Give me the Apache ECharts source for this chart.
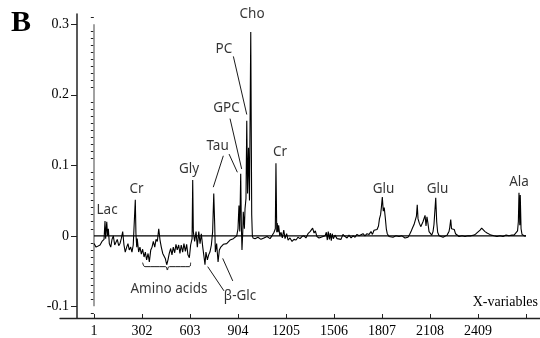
<!DOCTYPE html>
<html>
<head>
<meta charset="utf-8">
<script src="https://cdn.jsdelivr.net/npm/echarts@6/dist/echarts.min.js"></script>
<style>html,body{margin:0;padding:0;background:#fff}#c{width:540px;height:338px}</style>
</head>
<body>
<div id="c"></div>
<script>
// X-variable index of each sampled point of the loading spectrum
const variableIdx = [1,14,26,39,51,64,70,74,81,86,91,97,106,114,122,131,139,147,156,164,172,181,189,197,206,214,222,231,239,247,254,260,264,269,272,281,289,298,306,315,323,331,340,348,357,365,373,382,390,398,407,415,423,432,440,448,457,465,473,482,490,498,507,515,523,532,540,548,557,565,574,582,590,599,607,616,620,624,632,641,649,658,666,674,683,691,697,703,712,720,728,737,745,752,758,762,770,779,787,796,804,812,833,854,875,896,904,910,915,921,925,929,934,937,944,948,954,959,964,970,976,984,990,994,998,1011,1029,1048,1067,1086,1105,1117,1130,1138,1142,1147,1150,1155,1159,1166,1174,1182,1191,1199,1209,1218,1230,1243,1255,1268,1280,1293,1305,1318,1330,1343,1356,1366,1372,1381,1389,1399,1412,1425,1437,1450,1458,1464,1470,1477,1483,1489,1495,1502,1512,1525,1537,1550,1562,1575,1588,1600,1613,1625,1638,1650,1663,1675,1688,1700,1713,1726,1738,1747,1757,1766,1776,1785,1791,1798,1803,1809,1815,1821,1828,1834,1840,1851,1863,1876,1895,1914,1932,1951,1962,1970,1980,1989,1998,2008,2017,2023,2028,2033,2041,2050,2058,2064,2070,2077,2083,2089,2095,2102,2111,2119,2127,2133,2144,2150,2156,2165,2177,2190,2202,2215,2227,2232,2238,2243,2248,2254,2260,2268,2277,2290,2309,2328,2346,2365,2384,2397,2409,2422,2432,2440,2453,2466,2478,2491,2509,2528,2547,2566,2585,2603,2622,2635,2647,2657,2662,2666,2671,2674,2679,2685,2698,2710];
// loading value at each of those indices
const loadings = [-0.011,-0.016,-0.017,-0.013,-0.008,-0.005,0.021,-0.004,0.020,0.000,0.010,-0.011,-0.016,-0.005,0.000,-0.013,-0.014,-0.005,-0.014,-0.011,-0.004,0.006,-0.013,-0.023,-0.016,-0.011,-0.020,-0.016,-0.023,-0.013,-0.011,0.051,0.003,-0.016,-0.004,-0.023,-0.016,-0.026,-0.019,-0.030,-0.023,-0.034,-0.025,-0.037,-0.020,-0.016,-0.008,-0.016,-0.005,-0.008,0.010,-0.006,-0.016,-0.025,-0.023,-0.032,-0.041,-0.034,-0.025,-0.018,-0.027,-0.016,-0.024,-0.012,-0.020,-0.013,-0.025,-0.013,-0.023,-0.011,-0.022,-0.012,-0.027,-0.031,-0.013,-0.004,0.079,0.006,-0.008,0.006,-0.016,0.006,-0.011,0.003,-0.016,-0.030,-0.041,-0.023,-0.034,-0.027,-0.023,-0.013,0.006,0.060,0.015,-0.023,-0.011,-0.037,-0.020,-0.016,-0.018,-0.012,-0.011,-0.006,-0.004,0.000,0.010,0.043,0.006,0.088,0.015,-0.020,0.006,0.034,0.010,0.038,0.053,0.163,0.060,0.125,0.050,0.289,0.030,0.000,-0.003,-0.004,-0.002,-0.005,-0.003,-0.001,-0.004,0.000,0.005,0.010,0.103,0.005,0.018,0.005,0.015,0.000,0.005,-0.003,0.008,-0.004,0.003,-0.006,-0.003,-0.008,-0.005,-0.006,-0.002,-0.004,-0.001,0.000,-0.003,0.003,0.006,0.004,0.011,0.004,0.007,-0.001,-0.003,-0.002,-0.004,0.000,0.005,-0.006,0.006,-0.005,0.004,-0.007,0.003,-0.004,0.001,-0.004,-0.002,-0.005,0.002,-0.001,-0.003,0.001,-0.003,0.000,-0.002,0.002,0.000,-0.002,0.003,0.000,0.003,0.002,0.006,0.002,0.008,0.010,0.009,0.014,0.024,0.030,0.040,0.055,0.035,0.040,0.025,0.010,0.003,-0.001,0.001,-0.002,0.000,-0.001,0.000,-0.003,-0.005,-0.002,0.002,0.006,0.011,0.016,0.018,0.028,0.044,0.024,0.018,0.013,0.011,0.020,0.018,0.029,0.014,0.027,0.018,0.006,0.004,0.001,0.006,0.016,0.054,0.020,0.005,0.000,-0.002,-0.002,0.000,0.001,0.006,0.012,0.023,0.010,0.012,0.008,0.009,0.003,0.001,-0.001,0.000,-0.001,0.000,0.000,0.001,0.003,0.005,0.008,0.011,0.009,0.006,0.004,0.002,0.001,0.000,-0.001,0.000,-0.001,0.001,0.000,0.001,0.001,0.003,0.007,0.020,0.061,0.015,0.058,0.010,0.002,0.000,0.000];

const xTickValues = [1,302,603,904,1205,1506,1807,2108,2409,2710];
const xTickLabels = ['1','302','603','904','1205','1506','1807','2108','2409'];
const yTickValues = [-0.1,0,0.1,0.2,0.3];
const yTickLabels = ['-0.1','0','0.1','0.2','0.3'];
const yMinorTicks = [-0.11,-0.09,-0.08,-0.07,-0.06,-0.05,-0.04,-0.03,-0.02,-0.01,0.01,0.02,0.03,0.04,0.05,0.06,0.07,0.08,0.09,0.11,0.12,0.13,0.14,0.15,0.16,0.17,0.18,0.19,0.21,0.22,0.23,0.24,0.25,0.26,0.27,0.28,0.29,0.31];

// metabolite annotations: [name, x-variable, value]
const annotNames = ['Lac','Cr','Gly','Tau','GPC','PC','Cho','Cr','Glu','Glu','Ala','Amino acids','β-Glc'];
const annotX = [83,268,597,776,832,816,992,1167,1817,2155,2666,471,917];
const annotY = [0.037,0.0666,0.0948,0.1265,0.1807,0.265,0.3145,0.1187,0.0666,0.0666,0.0765,-0.0756,-0.0855];
// leader lines [x1,y1,x2,y2]
const leaders = [
  [875,0.2544,959,0.1720],
  [854,0.1662,927,0.0948],
  [812,0.1135,749,0.0690],
  [848,0.1159,900,0.0901],
  [714,-0.0437,816,-0.0780],
  [808,-0.0320,871,-0.0639]
];
// brace under amino-acid region
const braceX = [306,313,321,446,455,461,467,475,600,607];
const braceY = [-0.038,-0.0425,-0.0437,-0.0437,-0.0445,-0.0485,-0.0445,-0.0437,-0.0437,-0.038];

const chart = echarts.init(document.getElementById('c'), null, {renderer:'canvas'});
const serif = 'Liberation Serif';
const annoFont = 'Noto Sans';

const specData = variableIdx.map((x,i)=>[x, loadings[i]]);
const annotData = annotNames.map((n,i)=>({name:n, value:[annotX[i], annotY[i]]}));

const xMin = -212.2, xMax = 2797.8;
const yMin = -0.1165, yMax = 0.3145;

chart.setOption({
  animation:false,
  backgroundColor:'#fff',
  grid:{left:60, right:0, top:14, bottom:18, containLabel:false},
  xAxis:{
    type:'value', min:xMin, max:xMax,
    axisLine:{show:true, onZero:false, lineStyle:{color:'#222', width:1.4}},
    axisTick:{show:true, inside:true, length:4, customValues:xTickValues, lineStyle:{color:'#222', width:1}},
    axisLabel:{show:true, margin:6, customValues:xTickValues.slice(0, xTickLabels.length),
      formatter:function(v){const i=xTickValues.indexOf(v);return i>=0&&i<xTickLabels.length?xTickLabels[i]:'';},
      fontFamily:serif, fontSize:14, color:'#000'},
    splitLine:{show:false}
  },
  yAxis:[{
    type:'value', min:yMin, max:yMax, position:'left', offset:-17,
    axisLine:{show:true, onZero:false, lineStyle:{color:'#222', width:1.5}},
    axisTick:{show:true, inside:false, length:6, customValues:yTickValues, lineStyle:{color:'#222', width:1}},
    axisLabel:{show:true, margin:8, customValues:yTickValues,
      formatter:function(v){for(let i=0;i<yTickValues.length;i++){if(Math.abs(v-yTickValues[i])<1e-9)return yTickLabels[i];}return '';},
      fontFamily:serif, fontSize:14, color:'#000'},
    splitLine:{show:false}
  },{
    type:'value', min:yMin, max:yMax, position:'left', offset:-17,
    axisLine:{show:false},
    axisTick:{show:true, inside:false, length:3, customValues:yMinorTicks, lineStyle:{color:'#222', width:1}},
    axisLabel:{show:false},
    splitLine:{show:false}
  }],
  series:[
    {type:'line', data:[[1,0.3],[1,-0.1]], symbol:'none', silent:true,
     lineStyle:{color:'#8a8a8a', width:1.6}, z:1},
    {type:'line', data:[[xTickValues[0],0],[xTickValues[xTickValues.length-1],0]], symbol:'none', silent:true,
     lineStyle:{color:'#000', width:1.3}, z:3},
    {type:'line', data:specData, symbol:'none', silent:true,
     lineStyle:{color:'#000', width:1.1}, z:2},
    {type:'lines', coordinateSystem:'cartesian2d', silent:true, z:4,
     data:leaders.map(l=>({coords:[[l[0],l[1]],[l[2],l[3]]]})),
     lineStyle:{color:'#000', width:0.9, opacity:1}},
    {type:'line', data:braceX.map((x,i)=>[x,braceY[i]]), symbol:'none', smooth:0.4, silent:true,
     lineStyle:{color:'#000', width:0.9}, z:4},
    {type:'scatter', data:annotData, symbolSize:0.1, itemStyle:{color:'rgba(0,0,0,0)'}, silent:true, z:5,
     label:{show:true, position:'inside', formatter:'{b}', fontFamily:annoFont, fontSize:13.5, color:'#000'}}
  ],
  graphic:[
    {type:'text', left:11, top:8, style:{text:'B', font:'bold 30px "Liberation Serif"', fill:'#000'}},
    {type:'text', right:2, top:295, style:{text:'X-variables', font:'14px "Liberation Serif"', fill:'#000'}}
  ]
});
</script>
</body>
</html>
